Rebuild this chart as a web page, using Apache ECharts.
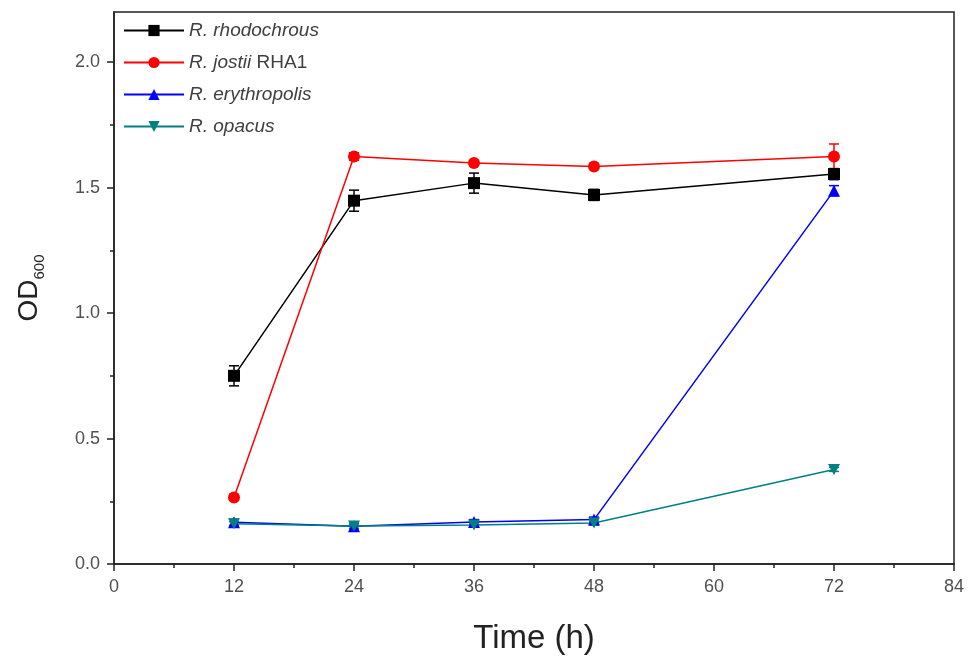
<!DOCTYPE html>
<html>
<head>
<meta charset="utf-8">
<script src="https://cdn.jsdelivr.net/npm/echarts@6/dist/echarts.min.js"></script>
<style>
  html, body { margin: 0; padding: 0; background: #fff; }
  #chart { width: 968px; height: 660px; }
</style>
</head>
<body>
<div id="chart"></div>
<script>
// time points (h)
var hours = [12, 24, 36, 48, 72];

var names = ['R. rhodochrous', 'R. jostii RHA1', 'R. erythropolis', 'R. opacus'];
var colors = ['#000000', '#ff0000', '#0000ff', '#008080'];
var symbols = ['rect', 'circle', 'triangle', 'path://M0,0 L10,0 L5,9 Z'];

// OD600 values
var rhodochrous = [0.75, 1.448, 1.518, 1.471, 1.554];
var jostii = [0.265, 1.624, 1.598, 1.584, 1.624];
var erythropolis = [0.166, 0.150, 0.167, 0.177, 1.488];
var opacus = [0.160, 0.151, 0.155, 0.163, 0.377];

// error bar half widths
var rhodochrousErr = [0.04, 0.042, 0.04, 0.022, 0.022];
var jostiiErr = [0.01, 0.015, 0.01, 0.01, 0.05];
var erythropolisErr = [0.012, 0.01, 0.01, 0.01, 0.02];
var opacusErr = [0.008, 0.008, 0.008, 0.008, 0.008];

var xTicks = [0, 12, 24, 36, 48, 60, 72, 84];
var yTicks = [0, 0.5, 1.0, 1.5, 2.0];
var yMinorTicks = [0.25, 0.75, 1.25, 1.75];

var values = [rhodochrous, jostii, erythropolis, opacus];
var errors = [rhodochrousErr, jostiiErr, erythropolisErr, opacusErr];

var labelFont = { fontFamily: 'Liberation Sans', fontSize: 18, color: '#505050' };

var myChart = echarts.init(document.getElementById('chart'));

function pairs(arr) {
    return hours.map(function (h, i) { return [h, arr[i]]; });
}
function errPairs(arr, err) {
    return hours.map(function (h, i) { return [h, arr[i] - err[i], arr[i] + err[i]]; });
}

var series = [];
values.forEach(function (v, k) {
    series.push({
        type: 'custom',
        name: names[k] + ' err',
        data: errPairs(v, errors[k]),
        z: 3,
        silent: true,
        renderItem: function (params, api) {
            var lo = api.coord([api.value(0), api.value(1)]);
            var hi = api.coord([api.value(0), api.value(2)]);
            var w = 5;
            var st = { stroke: colors[k], lineWidth: 1.5 };
            return {
                type: 'group',
                children: [
                    { type: 'line', shape: { x1: lo[0], y1: lo[1], x2: hi[0], y2: hi[1] }, style: st },
                    { type: 'line', shape: { x1: lo[0] - w, y1: lo[1], x2: lo[0] + w, y2: lo[1] }, style: st },
                    { type: 'line', shape: { x1: hi[0] - w, y1: hi[1], x2: hi[0] + w, y2: hi[1] }, style: st }
                ]
            };
        }
    });
});
values.forEach(function (v, k) {
    series.push({
        type: 'line',
        name: names[k],
        data: pairs(v),
        symbol: symbols[k],
        symbolSize: k === 3 ? [12, 11] : 12,
        showAllSymbol: true,
        z: 4,
        lineStyle: { color: colors[k], width: 1.5 },
        itemStyle: { color: colors[k] }
    });
});

var option = {
    animation: false,
    backgroundColor: '#fff',
    grid: {
        left: 114,
        right: 14,
        top: 12,
        bottom: 95,
        show: true,
        borderColor: '#222',
        borderWidth: 1.5
    },
    legend: {
        data: names,
        orient: 'vertical',
        left: 118,
        top: 16,
        itemWidth: 60,
        itemHeight: 14,
        itemGap: 13,
        formatter: function (name) {
            if (name === 'R. jostii RHA1') return '{i|R. jostii} {n|RHA1}';
            return '{i|' + name + '}';
        },
        textStyle: {
            color: '#404040',
            fontFamily: 'Liberation Sans',
            fontSize: 19,
            rich: {
                i: { fontStyle: 'italic', fontSize: 19, color: '#404040', fontFamily: 'Liberation Sans' },
                n: { fontSize: 19, color: '#404040', fontFamily: 'Liberation Sans' }
            }
        }
    },
    xAxis: {
        type: 'value',
        min: 0,
        max: 84,
        interval: 12,
        name: 'Time (h)',
        nameLocation: 'middle',
        nameGap: 58,
        nameTextStyle: { fontFamily: 'Liberation Sans', fontSize: 33, color: '#222' },
        axisLine: { lineStyle: { color: '#222', width: 1.5 } },
        axisTick: { length: 7, lineStyle: { color: '#222', width: 1.5 } },
        minorTick: { show: true, splitNumber: 2, length: 4, lineStyle: { color: '#222', width: 1.5 } },
        axisLabel: Object.assign({ margin: 14 }, labelFont),
        splitLine: { show: false }
    },
    yAxis: [{
        type: 'value',
        min: 0,
        max: 2.2,
        interval: 0.5,
        name: '{a|OD}{b|600}',
        nameLocation: 'middle',
        nameGap: 67,
        nameTextStyle: {
            rich: {
                a: { fontFamily: 'Liberation Sans', fontSize: 28, color: '#222' },
                b: { fontFamily: 'Liberation Sans', fontSize: 15, color: '#222', padding: [20, 0, 0, 0] }
            }
        },
        axisLine: { lineStyle: { color: '#222', width: 1.5 } },
        axisTick: { length: 7, customValues: yTicks, lineStyle: { color: '#222', width: 1.5 } },
        axisLabel: Object.assign({
            margin: 14,
            customValues: yTicks,
            formatter: function (v) { return v.toFixed(1); }
        }, labelFont),
        splitLine: { show: false }
    }, {
        type: 'value',
        min: 0,
        max: 2.2,
        position: 'left',
        axisLine: { show: false },
        axisTick: { length: 4, customValues: yMinorTicks, lineStyle: { color: '#222', width: 1.5 } },
        axisLabel: { show: false },
        splitLine: { show: false }
    }],
    series: series
};
myChart.setOption(option, true);
</script>
</body>
</html>
